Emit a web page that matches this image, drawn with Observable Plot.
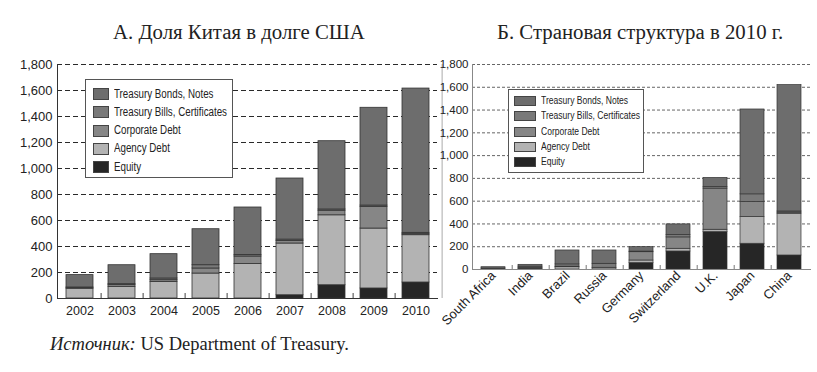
<!DOCTYPE html>
<html><head><meta charset="utf-8">
<script src="https://cdn.jsdelivr.net/npm/d3@7"></script>
<script src="https://cdn.jsdelivr.net/npm/@observablehq/plot@0.6"></script>
<style>
body{margin:0;width:817px;height:372px;position:relative;background:#fff;overflow:hidden}
.title{position:absolute;top:20px;font-family:"Liberation Serif","Times New Roman",serif;font-size:20.8px;color:#222;white-space:nowrap;line-height:24px}
#left{position:absolute;left:0;top:50px}
#right{position:absolute;left:440px;top:50px}
#caption{position:absolute;left:50px;top:333px;font-family:"Liberation Serif","Times New Roman",serif;font-size:18.5px;line-height:22px;color:#222;white-space:nowrap}
.legend{position:absolute;background:#fff;border:1px solid #555;box-sizing:border-box}
.sw{position:absolute;box-sizing:border-box;border:1px solid #444}
.lt{position:absolute;font-family:"Liberation Sans Narrow","Arial Narrow","Liberation Sans",Arial,sans-serif;color:#222;transform-origin:0 50%;display:inline-block;white-space:nowrap}
</style></head>
<body>
<div class="title" id="t1" style="left:113px">А. Доля Китая в долге США</div>
<div class="title" id="t2" style="left:497px">Б. Страновая структура в 2010 г.</div>
<div id="left"></div>
<div id="right"></div>
<div id="caption"><i>Источник:</i> US Department of Treasury.</div>
<script>
// ---- data ----
const series = ["Treasury Bonds, Notes","Treasury Bills, Certificates","Corporate Debt","Agency Debt","Equity"];
const stackOrder = ["Equity","Agency Debt","Corporate Debt","Treasury Bills, Certificates","Treasury Bonds, Notes"];
const colors = ["#6d6d6d","#797979","#868686","#b3b3b3","#262626"];
const yTicks = [0,200,400,600,800,1000,1200,1400,1600,1800];

const years = ["2002","2003","2004","2005","2006","2007","2008","2009","2010"];
const chinaEquity    = [0,0,0,0,0,25,102,77,123];
const chinaAgency    = [75,90,128,192,265,398,538,461,364];
const chinaCorporate = [5,15,13,39,58,20,35,167,8];
const chinaBills     = [5,5,13,25,12,10,10,10,10];
const chinaBonds     = [95,146,187,277,365,470,525,752,1110];

const countries = ["South Africa","India","Brazil","Russia","Germany","Switzerland","U.K.","Japan","China"];
const cEquity    = [0,0,0,0,56,158,328,226,123];
const cAgency    = [0,5,20,15,23,24,21,234,367];
const cCorporate = [0,10,5,0,73,100,361,132,10];
const cBills     = [8,10,20,35,5,20,14,68,10];
const cBonds     = [12,16,122,117,39,94,80,745,1109];

function toRows(cats, eq, ag, co, bi, bo) {
  return cats.flatMap((c, i) => [
    {cat: c, s: "Equity", v: eq[i]},
    {cat: c, s: "Agency Debt", v: ag[i]},
    {cat: c, s: "Corporate Debt", v: co[i]},
    {cat: c, s: "Treasury Bills, Certificates", v: bi[i]},
    {cat: c, s: "Treasury Bonds, Notes", v: bo[i]}
  ]);
}
const leftRows = toRows(years, chinaEquity, chinaAgency, chinaCorporate, chinaBills, chinaBonds);
const rightRows = toRows(countries, cEquity, cAgency, cCorporate, cBills, cBonds);
const fmt = d3.format(",");

// ---- left chart ----
{
  const W = 440, H = 270, mL = 57, mR = 3, mT = 14, mB = 22;
  const pi = 0.36, po = 0.18;
  const step = (W - mL - mR) / (years.length - pi + 2 * po);
  const chart = Plot.plot({
    width: W, height: H, marginTop: mT, marginBottom: mB, marginLeft: mL, marginRight: mR,
    style: {fontFamily: "'Liberation Sans', Arial, sans-serif", fontSize: "13px", color: "#222", background: "transparent", overflow: "visible"},
    x: {domain: years, paddingInner: pi, paddingOuter: po, label: null},
    y: {domain: [0, 1800], label: null},
    color: {domain: series, range: colors},
    marks: [
      Plot.gridY(yTicks.slice(1), {stroke: "#2a2a2a", strokeOpacity: 1, strokeWidth: 1.1, strokeDasharray: "5,3"}),
      Plot.ruleX([years[years.length - 1]], {dx: step / 2 + 5, stroke: "#aaa", strokeWidth: 1}),
      Plot.barY(leftRows, {x: "cat", y: "v", fill: "s", z: "s", order: stackOrder, stroke: "#333", strokeWidth: 0.8}),
      Plot.ruleX(years.slice(0, -1), {dx: step / 2, insetTop: H - mT - mB - 5, stroke: "#444"}),
      Plot.axisY(yTicks, {tickSize: 0, tickPadding: 5, tickFormat: fmt, fontSize: 13, fill: "#222"}),
      Plot.axisX({tickSize: 0, tickPadding: 8, fontSize: 12.5, fill: "#222"}),
      Plot.frame({anchor: "left", stroke: "#333"}),
      Plot.frame({anchor: "bottom", stroke: "#333"})
    ]
  });
  document.getElementById("left").append(chart);
}

// ---- right chart ----
{
  const W = 377, H = 290, mL = 32, mR = 7, mT = 14, mB = 71;
  const pi = 0.36, po = 0.2;
  const step = (W - mL - mR) / (countries.length - pi + 2 * po);
  const chart = Plot.plot({
    width: W, height: H, marginTop: mT, marginBottom: mB, marginLeft: mL, marginRight: mR,
    style: {fontFamily: "'Liberation Sans', Arial, sans-serif", fontSize: "11.5px", color: "#222", background: "transparent", overflow: "visible"},
    x: {domain: countries, paddingInner: pi, paddingOuter: po, label: null},
    y: {domain: [0, 1800], label: null},
    color: {domain: series, range: colors},
    marks: [
      Plot.gridY(yTicks.slice(1), {stroke: "#666", strokeOpacity: 1, strokeWidth: 1, strokeDasharray: "3,2"}),
      Plot.barY(rightRows, {x: "cat", y: "v", fill: "s", z: "s", order: stackOrder, stroke: "#333", strokeWidth: 0.7}),
      Plot.ruleX(countries.slice(0, -1), {dx: step / 2, insetTop: H - mT - mB - 4, stroke: "#777"}),
      Plot.axisY(yTicks, {tickSize: 0, tickPadding: 4, tickFormat: fmt, fontSize: 11.5, fill: "#222"}),
      Plot.axisX({tickSize: 0, tickPadding: 4, tickRotate: -45, fontSize: 13, fill: "#222"}),
      Plot.frame({anchor: "left", stroke: "#888"}),
      Plot.frame({anchor: "bottom", stroke: "#888"})
    ]
  });
  document.getElementById("right").append(chart);
}

// ---- legends ----
function legend(opts) {
  const box = document.createElement("div");
  box.className = "legend";
  Object.assign(box.style, {left: opts.x + "px", top: opts.y + "px", width: opts.w + "px", height: opts.h + "px"});
  document.body.append(box);
  const texts = [];
  series.forEach((s, i) => {
    const cy = opts.row0 + i * opts.rowGap;
    const sw = document.createElement("div");
    sw.className = "sw";
    Object.assign(sw.style, {left: opts.swX + "px", top: (cy - opts.swH / 2) + "px", width: opts.swW + "px", height: opts.swH + "px", background: colors[i]});
    box.append(sw);
    const t = document.createElement("span");
    t.className = "lt";
    t.textContent = s;
    Object.assign(t.style, {left: opts.tx + "px", top: (cy - opts.fs * 0.6) + "px", fontSize: opts.fs + "px", lineHeight: (opts.fs * 1.2) + "px"});
    box.append(t);
    texts.push(t);
  });
  const maxW = d3.max(texts, t => t.getBoundingClientRect().width);
  const k = opts.textW / maxW;
  texts.forEach(t => t.style.transform = `scaleX(${k})`);
}
legend({x: 85, y: 79, w: 148, h: 99, row0: 14, rowGap: 18.3, swX: 7, swW: 16, swH: 12, tx: 28, fs: 12.5, textW: 113});
legend({x: 508, y: 89, w: 136, h: 84, row0: 11, rowGap: 15.3, swX: 5, swW: 22, swH: 10, tx: 32, fs: 11.5, textW: 99});
</script>
</body></html>
